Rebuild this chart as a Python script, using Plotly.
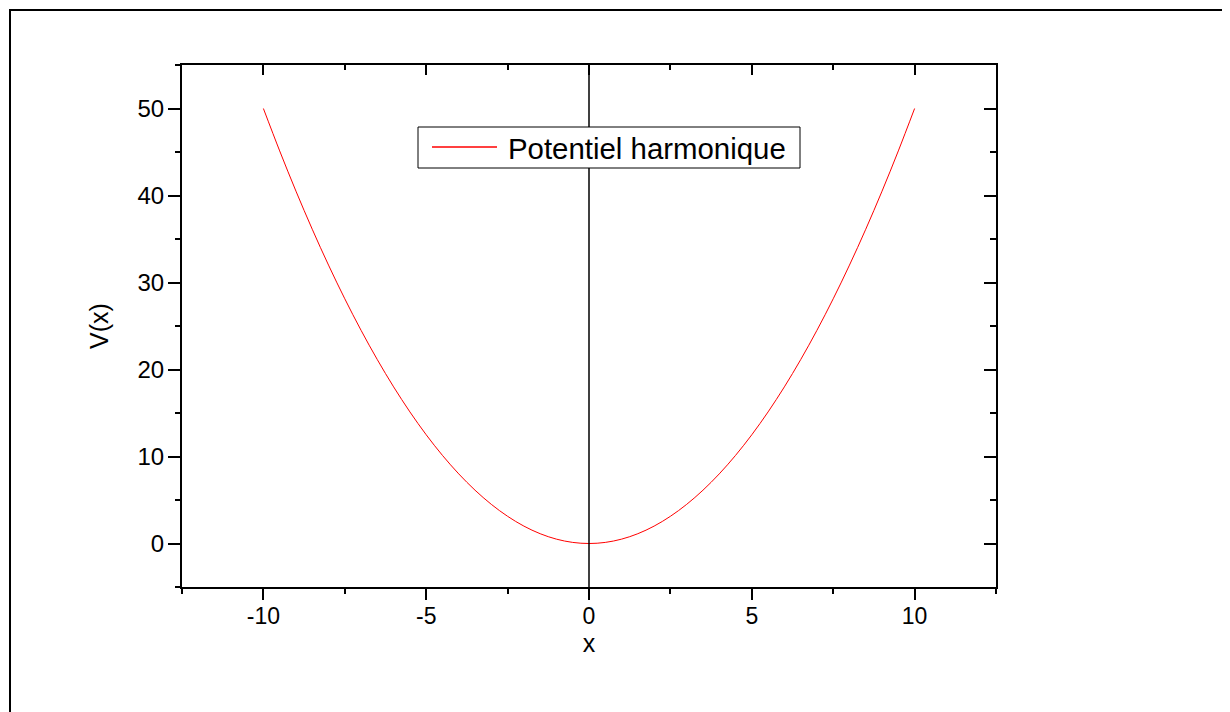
import plotly.graph_objects as go

# Data
x_vals = [-10, -9.5, -9, -8.5, -8, -7.5, -7, -6.5, -6, -5.5, -5, -4.5, -4, -3.5, -3, -2.5,
          -2, -1.5, -1, -0.5, 0, 0.5, 1, 1.5, 2, 2.5, 3, 3.5, 4, 4.5, 5, 5.5, 6, 6.5, 7,
          7.5, 8, 8.5, 9, 9.5, 10]
v_vals = [50, 45.125, 40.5, 36.125, 32, 28.125, 24.5, 21.125, 18, 15.125, 12.5, 10.125,
          8, 6.125, 4.5, 3.125, 2, 1.125, 0.5, 0.125, 0, 0.125, 0.5, 1.125, 2, 3.125, 4.5,
          6.125, 8, 10.125, 12.5, 15.125, 18, 21.125, 24.5, 28.125, 32, 36.125, 40.5,
          45.125, 50]
series_name = "Potentiel harmonique"
x_title = "x"
y_title = "V(x)"
x_range = [-12.5, 12.5]
y_range = [-5, 55]
x_tickvals = [-10, -5, 0, 5, 10]
x_ticktext = ["-10", "-5", "0", "5", "10"]
y_tickvals = [0, 10, 20, 30, 40, 50]
y_ticktext = ["0", "10", "20", "30", "40", "50"]
x_minor_dtick = 2.5
y_minor_dtick = 5
vline_x = 0

# page is offset by the 8px body margin
W, H = 1222, 704
L, T = 174, 57
pw, ph = 814, 522
R = W - L - pw
B = H - T - ph

FONT = "Liberation Sans, Arial, sans-serif"


def px(xp):  # page pixel x -> paper x
    return (xp - 8 - L) / pw


def py(yp):  # page pixel y -> paper y
    return (T + ph - (yp - 8)) / ph


fig = go.Figure()
fig.add_trace(go.Scatter(x=x_vals, y=v_vals, mode="lines", name=series_name,
                         line=dict(color="#ff0000", width=1, shape="spline"),
                         showlegend=False))
# invisible trace to anchor mirrored axes
fig.add_trace(go.Scatter(x=x_vals, y=v_vals, mode="lines", xaxis="x2", yaxis="y2",
                         line=dict(color="rgba(0,0,0,0)", width=0), showlegend=False,
                         hoverinfo="skip"))

common = dict(showgrid=False, zeroline=False, showline=True, linecolor="black",
              linewidth=2, tickcolor="black", tickwidth=2)

fig.update_layout(
    width=W, height=H,
    margin=dict(l=L, r=R, t=T, b=B),
    paper_bgcolor="white", plot_bgcolor="white",
    font=dict(family=FONT, color="black"),
    xaxis=dict(range=x_range, tickvals=x_tickvals, ticktext=x_ticktext,
               ticks="outside", ticklen=11,
               minor=dict(dtick=x_minor_dtick, ticks="outside", ticklen=5, tickwidth=2,
                          tickcolor="black", tick0=x_range[0]),
               tickfont=dict(size=23, family=FONT), ticklabelstandoff=-4,
               title=dict(text=x_title, font=dict(size=25, family=FONT), standoff=0),
               **common),
    yaxis=dict(range=y_range, tickvals=y_tickvals, ticktext=y_ticktext,
               ticks="outside", ticklen=12,
               minor=dict(dtick=y_minor_dtick, ticks="outside", ticklen=5, tickwidth=2,
                          tickcolor="black", tick0=y_range[0]),
               tickfont=dict(size=24, family=FONT), ticklabelstandoff=-1,
               title=dict(text=y_title, font=dict(size=25, family=FONT), standoff=22),
               **common),
    xaxis2=dict(range=x_range, tickvals=x_tickvals, ticks="inside", ticklen=10,
                overlaying="x", side="top", anchor="y", showticklabels=False,
                minor=dict(dtick=x_minor_dtick, ticks="inside", ticklen=5, tickwidth=2,
                           tickcolor="black", tick0=x_range[0]),
                **common),
    yaxis2=dict(range=y_range, tickvals=y_tickvals, ticks="inside", ticklen=12,
                overlaying="y", side="right", anchor="x", showticklabels=False,
                minor=dict(dtick=y_minor_dtick, ticks="inside", ticklen=6, tickwidth=2,
                           tickcolor="black", tick0=y_range[0]),
                **common),
    showlegend=False,
    shapes=[
        dict(type="line", xref="x", yref="paper", x0=vline_x, x1=vline_x, y0=0, y1=1,
             line=dict(color="black", width=1.5)),
        # legend box
        dict(type="rect", xref="paper", yref="paper",
             x0=px(418), x1=px(800), y0=py(168), y1=py(127),
             fillcolor="white", line=dict(color="black", width=1)),
        dict(type="line", xref="paper", yref="paper",
             x0=px(432), x1=px(497), y0=py(147), y1=py(147),
             line=dict(color="#ff0000", width=1.4)),
        # outer frame (top and left edges)
        dict(type="line", xref="paper", yref="paper",
             x0=px(9), x1=px(1240), y0=py(10), y1=py(10),
             line=dict(color="black", width=2)),
        dict(type="line", xref="paper", yref="paper",
             x0=px(10), x1=px(10), y0=py(9), y1=py(730),
             line=dict(color="black", width=2)),
    ],
    annotations=[
        dict(text=series_name, xref="paper", yref="paper", x=px(506), y=py(148),
             xanchor="left", yanchor="middle", showarrow=False,
             font=dict(size=29.4, family=FONT, color="black")),
    ],
)

fig.write_html("out.html")
